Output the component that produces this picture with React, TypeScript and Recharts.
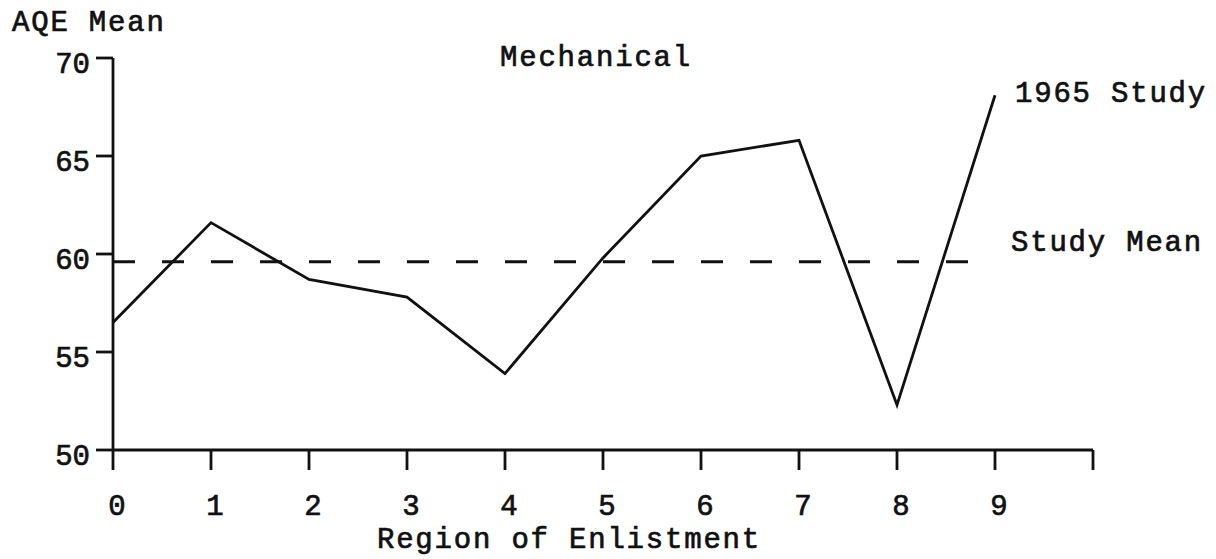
import React from 'react';
import { LineChart, Line, XAxis, YAxis, ReferenceLine } from 'recharts';

const regions = [0, 1, 2, 3, 4, 5, 6, 7, 8, 9];
const aqeMean1965 = [56.5, 61.6, 58.7, 57.8, 53.9, 59.8, 65.0, 65.8, 52.3, 68.1];
const studyMean = 59.6;
const studyMeanEnd = 8.95;
const xTicks = [0, 1, 2, 3, 4, 5, 6, 7, 8, 9, 10];
const xTickLabels = ['0', '1', '2', '3', '4', '5', '6', '7', '8', '9', ''];
const yTicks = [50, 55, 60, 65, 70];

const data = regions.map((r, i) => ({ region: r, value: aqeMean1965[i] }));

const FONT = '"Liberation Mono", "DejaVu Sans Mono", monospace';
const INK = '#111';

const textStyle: React.CSSProperties = {
  fontFamily: FONT,
  fontSize: 29,
  letterSpacing: 1.8,
  fill: INK,
  stroke: INK,
  strokeWidth: 0.7,
};

export default function App() {
  return (
    <div style={{ position: 'absolute', left: 0, top: 0, width: 1216, height: 559, background: '#fff' }}>
      <LineChart
        width={1216}
        height={559}
        data={data}
        margin={{ top: 58, right: 123, bottom: 0, left: 0 }}
      >
        <XAxis
          type="number"
          dataKey="region"
          domain={[0, 10]}
          ticks={xTicks}
          tickFormatter={(v: number) => xTickLabels[xTicks.indexOf(v)] ?? ''}
          height={109}
          axisLine={{ stroke: INK, strokeWidth: 2.8 }}
          tickLine={{ stroke: INK, strokeWidth: 2.8 }}
          tickSize={20}
          tickMargin={24}
          tick={{ fontFamily: FONT, fontSize: 29, fill: INK, stroke: INK, strokeWidth: 0.7, dx: 4 }}
          interval={0}
        />
        <YAxis
          type="number"
          domain={[50, 70]}
          ticks={yTicks}
          width={113}
          axisLine={{ stroke: INK, strokeWidth: 2.8 }}
          tickLine={{ stroke: INK, strokeWidth: 2.8 }}
          tickSize={17}
          tickMargin={6}
          tick={{ fontFamily: FONT, fontSize: 29, fill: INK, stroke: INK, strokeWidth: 0.7, dy: 5 }}
          interval={0}
        />
        <ReferenceLine
          segment={[
            { x: 0, y: studyMean },
            { x: studyMeanEnd, y: studyMean },
          ]}
          stroke={INK}
          strokeWidth={3}
          strokeDasharray="22 27"
        />
        <Line
          type="linear"
          dataKey="value"
          stroke={INK}
          strokeWidth={2.8}
          dot={false}
          activeDot={false}
          isAnimationActive={false}
        />
      </LineChart>
      <svg
        width={1216}
        height={559}
        style={{ position: 'absolute', left: 0, top: 0, pointerEvents: 'none' }}
      >
        <text x={12} y={31} style={textStyle}>AQE Mean</text>
        <text x={500} y={66} style={textStyle}>Mechanical</text>
        <text x={1015} y={102} style={textStyle}>1965 Study</text>
        <text x={1011} y={251} style={textStyle}>Study Mean</text>
        <text x={569} y={548} textAnchor="middle" style={textStyle}>Region of Enlistment</text>
      </svg>
    </div>
  );
}
